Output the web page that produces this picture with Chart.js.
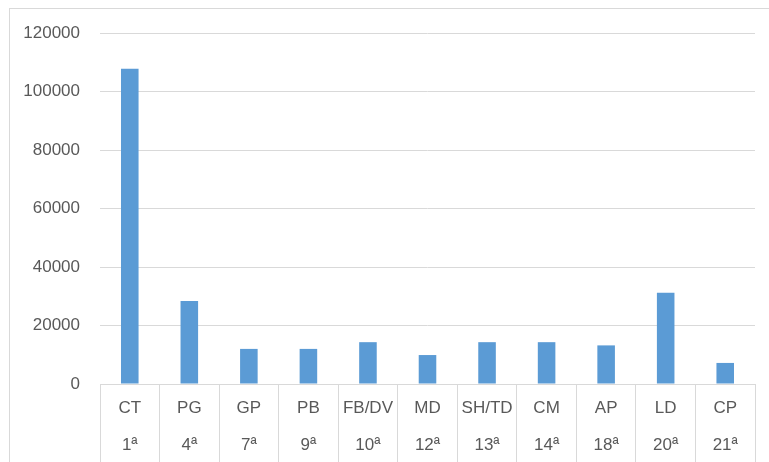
<!DOCTYPE html>
<html>
<head>
<meta charset="utf-8">
<script src="https://cdn.jsdelivr.net/npm/chart.js@4/dist/chart.umd.min.js"></script>
<style>
  html, body { margin: 0; padding: 0; background: #fff; }
  #wrap { position: relative; width: 769px; height: 462px; overflow: hidden; }
  #frame { position: absolute; left: 9px; top: 8px; width: 800px; height: 500px;
           border-left: 1px solid #d9d9d9; border-top: 1px solid #d9d9d9; }
  canvas { position: absolute; left: 0; top: 0; }
</style>
</head>
<body>
<div id="wrap">
  <div id="frame"></div>
  <canvas id="chart" width="769" height="462"></canvas>
</div>
<script>
// categories (two label rows) and values
const codes = ['CT', 'PG', 'GP', 'PB', 'FB/DV', 'MD', 'SH/TD', 'CM', 'AP', 'LD', 'CP'];
const ranks = ['1ª', '4ª', '7ª', '9ª', '10ª', '12ª', '13ª', '14ª', '18ª', '20ª', '21ª'];
const values = [107800, 28400, 12000, 12000, 14300, 9900, 14300, 14300, 13200, 31200, 7200];

const labels = codes.map((c, i) => [c, ranks[i]]);

const textColor = '#595959';
const lineColor = '#d9d9d9';

new Chart(document.getElementById('chart'), {
  type: 'bar',
  data: {
    labels: labels,
    datasets: [{
      data: values,
      backgroundColor: '#5b9bd5',
      borderWidth: 0,
      categoryPercentage: 1,
      barPercentage: 0.295
    }]
  },
  options: {
    responsive: false,
    animation: false,
    events: [],
    layout: { padding: { top: 33, right: 14, left: 0, bottom: 0 } },
    plugins: {
      legend: { display: false },
      tooltip: { enabled: false }
    },
    scales: {
      x: {
        offset: true,
        grid: {
          offset: true,
          drawOnChartArea: false,
          drawTicks: true,
          tickLength: 78,
          color: lineColor
        },
        border: { display: true, color: lineColor },
        ticks: {
          color: textColor,
          padding: -72.5,
          maxRotation: 0,
          autoSkip: false,
          font: { family: 'Liberation Sans', size: 17, lineHeight: 37 / 17 }
        },
        afterFit: (scale) => { scale.height = 78; }
      },
      y: {
        min: 0,
        max: 120000,
        grid: { drawTicks: false, color: lineColor, lineWidth: 1 },
        border: { display: false },
        ticks: {
          stepSize: 20000,
          color: textColor,
          padding: 20,
          font: { family: 'Liberation Sans', size: 17 },
          callback: (v) => String(v)
        },
        afterFit: (scale) => { scale.width = 100; }
      }
    }
  }
});
</script>
</body>
</html>
